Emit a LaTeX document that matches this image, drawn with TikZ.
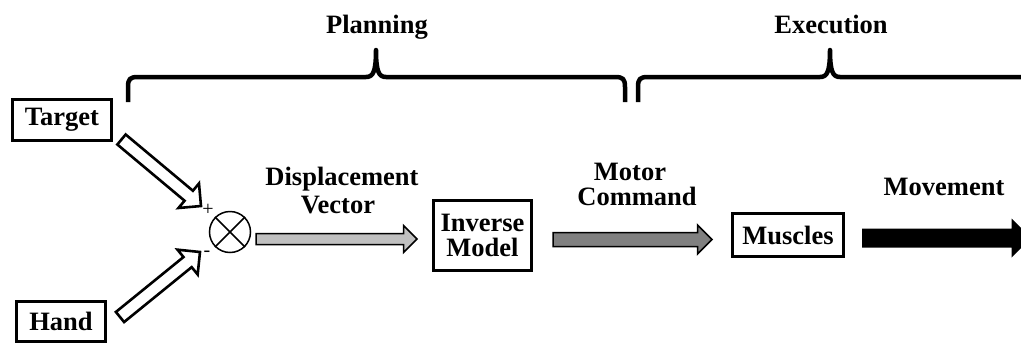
\documentclass[tikz,border=0pt]{standalone}
\usepackage{fontspec}
\setmainfont{Liberation Serif}
\usetikzlibrary{calc}
\definecolor{lightfill}{HTML}{C0C0C0}
\definecolor{darkfill}{HTML}{808080}

% Block arrow from #2 (tail) to #3 (tip): #4 shaft half-width, #5 head half-width (= head length)
\newcommand\blockarrow[5]{%
  \coordinate (ba-h) at ($(#3)!#5!(#2)$);
  \path[#1] ($(#2)!#4!90:(#3)$) -- ($(ba-h)!#4!90:(#3)$) -- ($(ba-h)!#5!90:(#3)$)
    -- (#3) -- ($(ba-h)!#5!-90:(#3)$) -- ($(ba-h)!#4!-90:(#3)$)
    -- ($(#2)!#4!-90:(#3)$) -- cycle;
}

\begin{document}
\begin{tikzpicture}[x=1pt,y=-1pt,
  font=\fontsize{26.5}{25}\selectfont\bfseries,
  box/.style={draw, line width=2.8pt, inner sep=0pt, align=center},
  lbl/.style={anchor=base, inner sep=0pt},
  sign/.style={inner sep=0pt, font=\fontsize{20}{20}\selectfont\mdseries},
  brace/.style={line width=4.5pt, line join=round},
  hollow/.style={draw, fill=white, line width=2.6pt, line join=miter},
  grayarrow/.style={draw, line width=1.5pt, line join=miter},
]
\useasboundingbox (0,0) rectangle (1021,346);
\fill[white] (0,0) rectangle (1021,346);
\clip (0,0) rectangle (1021,346);

% stage labels and braces
\node[lbl] (planning) at (377,33) {Planning};
\node[lbl] (execution) at (831,33) {Execution};
\draw[brace] (128,102) -- (128,87) .. controls (128,79) and (130,77) .. (138,77)
  -- (366,77) .. controls (373,77) and (376,72) .. (376,50)
  .. controls (376,72) and (379,77) .. (386,77)
  -- (615,77) .. controls (623,77) and (625,79) .. (625,87) -- (625,102);
\draw[brace] (638,102) -- (638,87) .. controls (638,79) and (640,77) .. (648,77)
  -- (820,77) .. controls (827,77) and (830,72) .. (830,50)
  .. controls (830,72) and (833,77) .. (840,77) -- (1040,77);

% blocks
\node[box, minimum width=99pt, minimum height=41pt] (target) at (62,120) {Target};
\node[box, minimum width=89pt, minimum height=40pt] (hand) at (61,321.5) {Hand};
\node[box, minimum width=98pt, minimum height=70pt] (inverse) at (482.5,235.5) {Inverse\\Model};
\node[box, minimum width=111pt, minimum height=43pt] (muscles) at (788,235) {Muscles};

% comparator
\node[draw, circle, line width=1.5pt, minimum size=41pt, inner sep=0pt] (sum) at (230,232) {};
\draw[line width=1.5pt] (sum.north west) -- (sum.south east)
  (sum.north east) -- (sum.south west);
\node[sign] (plus) at (208,210) {+};
\node[sign] (minus) at (207,254) {-};

% arrow end points
\coordinate (t0) at (121.5,139.5);
\coordinate (t1) at (201,206);
\coordinate (h0) at (120,317);
\coordinate (h1) at (200,252);
\coordinate (d0) at (256,239);
\coordinate (d1) at (417,239);
\coordinate (m0) at (553,239.5);
\coordinate (m1) at (712,239.5);
\coordinate (v0) at (862,238);
\coordinate (v1) at (1031,238);

\blockarrow{hollow}{t0}{t1}{6.5pt}{16pt}
\blockarrow{hollow}{h0}{h1}{6.5pt}{16pt}
\blockarrow{grayarrow, fill=lightfill}{d0}{d1}{5.5pt}{13.5pt}
\blockarrow{grayarrow, fill=darkfill}{m0}{m1}{7pt}{14.5pt}
\blockarrow{fill=black}{v0}{v1}{9.5pt}{19.5pt}

% arrow labels
\node[lbl] (disp1) at (342,185) {Displacement};
\node[lbl] (disp2) at (338,213) {Vector};
\node[lbl] (motor1) at (630,180) {Motor};
\node[lbl] (motor2) at (637,205) {Command};
\node[lbl] (move) at (944,195) {Movement};
\end{tikzpicture}
\end{document}
